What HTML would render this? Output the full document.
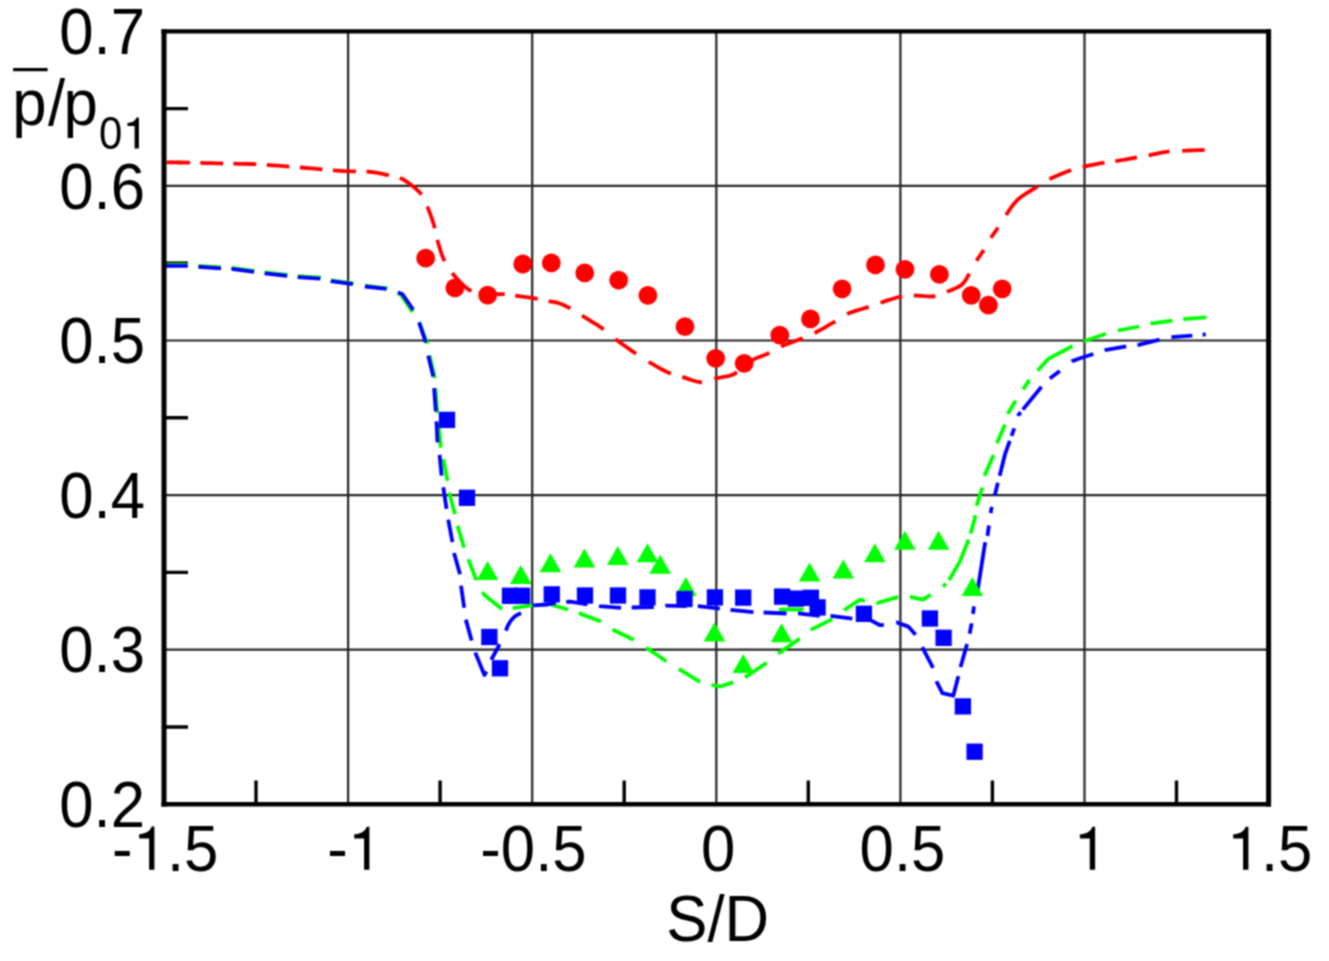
<!DOCTYPE html><html><head><meta charset="utf-8"><style>html,body{margin:0;padding:0;background:#fff;}svg{display:block;}text{font-family:"Liberation Sans",sans-serif;font-size:65px;}</style></head><body><svg width="1329" height="961" viewBox="0 0 1329 961"><filter id="bl" filterUnits="userSpaceOnUse" x="-10" y="-10" width="1349" height="981" color-interpolation-filters="sRGB"><feConvolveMatrix order="3" kernelMatrix="1 2 1 2 4 2 1 2 1" divisor="16" edgeMode="duplicate" preserveAlpha="true"/></filter><g filter="url(#bl)"><rect x="-10" y="-10" width="1349" height="981" fill="#fff"/><path d="M348.1 31.4V804.3M532.2 31.4V804.3M716.3 31.4V804.3M900.4 31.4V804.3M1084.5 31.4V804.3M164.0 649.7H1268.6M164.0 495.1H1268.6M164.0 340.5H1268.6M164.0 185.9H1268.6" stroke="#262626" stroke-width="2.2" fill="none"/><path d="M256.0 804.3V780.4M440.1 804.3V780.4M624.2 804.3V780.4M808.3 804.3V780.4M992.4 804.3V780.4M1176.5 804.3V780.4M164.0 727.0H188.0M164.0 572.4H188.0M164.0 417.8H188.0M164.0 263.2H188.0M164.0 108.6H188.0" stroke="#000" stroke-width="3.4" fill="none"/><polyline points="166.0,162.3 170.0,162.4 173.9,162.4 177.8,162.5 181.7,162.5 185.8,162.6 190.0,162.7 195.2,162.8 200.6,162.9 206.2,163.1 211.8,163.2 217.4,163.4 223.0,163.5 228.5,163.6 234.0,163.7 239.5,163.8 245.0,163.8 250.5,164.0 256.0,164.2 261.5,164.5 267.0,164.9 272.5,165.3 278.0,165.7 283.5,166.2 289.0,166.6 294.6,167.0 300.4,167.5 306.1,168.0 311.7,168.4 317.1,168.9 322.0,169.3 325.3,169.6 328.4,169.9 331.4,170.1 334.3,170.4 337.1,170.6 340.0,170.8 342.8,171.0 345.5,171.1 348.3,171.2 350.9,171.3 353.5,171.3 356.0,171.4 357.9,171.4 359.7,171.5 361.5,171.5 363.2,171.5 364.9,171.5 366.6,171.6 368.2,171.7 369.7,171.8 371.1,172.0 372.6,172.2 374.2,172.4 375.8,172.6 377.9,173.0 380.1,173.4 382.4,173.8 384.7,174.3 386.9,174.8 389.1,175.3 391.0,175.7 392.9,176.1 394.8,176.5 396.6,177.0 398.4,177.4 400.0,178.0 401.2,178.5 402.3,179.0 403.3,179.5 404.3,180.1 405.4,180.8 406.6,181.6 408.9,183.2 411.5,185.2 414.3,187.4 417.0,189.8 419.5,192.2 421.6,194.6 422.9,196.5 424.0,198.4 424.9,200.3 425.7,202.3 426.5,204.4 427.4,206.6 428.7,209.9 430.1,213.6 431.5,217.4 432.8,221.3 433.9,225.0 434.9,228.3 435.4,230.4 435.8,232.3 436.2,234.1 436.5,235.9 436.9,237.8 437.4,239.9 438.3,243.2 439.4,246.8 440.5,250.6 441.8,254.4 443.2,258.0 444.6,261.2 445.7,263.4 446.9,265.5 448.1,267.4 449.3,269.3 450.8,271.2 452.4,273.2 454.9,276.3 457.8,279.6 460.9,283.0 464.3,286.2 467.8,289.0 471.5,291.2 475.6,292.6 480.2,293.4 484.9,293.9 489.6,294.0 493.8,294.1 497.2,294.2 498.6,294.3 499.9,294.2 501.0,294.2 502.1,294.2 503.2,294.2 504.4,294.2 506.0,294.3 507.7,294.5 509.4,294.8 511.2,295.0 513.1,295.3 515.2,295.6 518.6,296.1 522.4,296.6 526.5,297.2 530.6,297.7 534.4,298.3 537.8,298.9 539.8,299.3 541.7,299.7 543.5,300.1 545.2,300.5 546.9,300.8 548.6,301.2 550.1,301.5 551.6,301.7 553.1,301.9 554.6,302.1 556.1,302.4 557.7,302.8 559.7,303.5 561.8,304.3 564.0,305.2 566.1,306.2 568.2,307.2 570.3,308.3 572.3,309.4 574.1,310.5 576.0,311.6 577.9,312.9 579.9,314.1 582.0,315.5 585.3,317.6 589.0,319.8 592.9,322.3 596.8,324.7 600.4,327.1 603.7,329.4 605.9,331.0 607.8,332.6 609.6,334.2 611.4,335.7 613.3,337.3 615.4,339.0 618.6,341.4 622.0,343.9 625.7,346.5 629.4,349.1 632.9,351.6 636.2,353.8 638.4,355.3 640.5,356.7 642.5,358.0 644.5,359.3 646.5,360.5 648.8,361.9 651.9,363.7 655.2,365.7 658.6,367.6 662.1,369.5 665.5,371.2 668.7,372.7 671.0,373.6 673.3,374.4 675.5,375.0 677.6,375.6 679.9,376.2 682.3,376.9 685.4,377.9 688.8,379.1 692.3,380.3 695.7,381.3 699.0,382.0 702.1,382.3 704.3,382.1 706.3,381.6 708.3,380.9 710.2,380.1 712.3,379.4 714.4,378.7 717.2,378.1 720.3,377.5 723.5,376.9 726.6,376.4 729.4,375.8 731.6,375.1 732.5,374.7 733.3,374.4 733.9,374.1 734.5,373.7 735.2,373.3 736.1,372.7 738.2,371.1 740.8,369.1 743.5,366.7 746.5,364.3 749.5,362.0 752.4,360.1 755.2,358.6 758.1,357.4 761.1,356.2 764.0,355.2 766.8,354.1 769.5,352.9 771.6,351.8 773.5,350.8 775.3,349.7 777.2,348.6 779.1,347.6 781.3,346.5 784.6,345.1 788.2,343.6 792.1,342.2 795.9,340.8 799.6,339.4 802.9,338.1 805.0,337.2 807.0,336.4 808.8,335.7 810.7,334.9 812.6,334.0 814.7,333.0 817.9,331.3 821.4,329.4 825.1,327.3 828.7,325.2 832.2,323.2 835.4,321.3 837.5,320.0 839.4,318.7 841.2,317.5 843.1,316.3 845.0,315.1 847.2,314.0 850.5,312.6 854.1,311.4 858.0,310.1 861.8,309.0 865.5,307.9 868.8,306.8 870.9,306.1 872.9,305.4 874.7,304.7 876.5,304.1 878.5,303.4 880.6,302.7 883.9,301.6 887.6,300.4 891.4,299.2 895.3,298.0 899.0,297.0 902.3,296.3 904.4,296.0 906.3,295.8 908.1,295.6 910.0,295.6 911.9,295.5 914.0,295.5 917.3,295.6 921.0,295.9 924.9,296.2 928.8,296.4 932.4,296.5 935.7,296.2 937.8,295.7 939.8,295.1 941.6,294.4 943.4,293.6 945.2,292.7 947.1,291.8 949.6,290.8 952.2,289.7 954.9,288.6 957.6,287.3 960.0,286.0 962.1,284.4 963.6,282.8 965.0,281.1 966.1,279.3 967.2,277.4 968.3,275.5 969.4,273.6 970.6,271.5 971.8,269.4 973.0,267.2 974.2,264.9 975.4,262.8 976.6,260.7 977.8,258.8 979.0,257.0 980.2,255.3 981.4,253.5 982.6,251.7 983.8,249.9 985.0,247.9 986.2,245.9 987.4,243.8 988.6,241.8 989.8,239.8 991.0,237.8 992.2,236.0 993.3,234.3 994.5,232.7 995.7,231.0 996.9,229.3 998.1,227.5 999.4,225.5 1000.7,223.4 1002.0,221.3 1003.4,219.2 1004.8,217.0 1006.2,214.9 1007.8,212.5 1009.4,210.0 1011.1,207.5 1012.9,205.1 1014.8,202.7 1017.0,200.4 1020.0,197.8 1023.5,195.3 1027.2,192.8 1031.0,190.5 1034.6,188.3 1037.8,186.3 1039.9,184.9 1041.8,183.7 1043.6,182.5 1045.4,181.4 1047.3,180.3 1049.5,179.1 1052.8,177.5 1056.4,175.9 1060.3,174.2 1064.2,172.7 1067.9,171.3 1071.2,170.1 1073.3,169.4 1075.2,168.9 1077.0,168.4 1078.8,167.9 1080.8,167.5 1082.9,167.0 1086.2,166.2 1089.9,165.4 1093.8,164.6 1097.7,163.8 1101.3,163.1 1104.6,162.5 1106.6,162.2 1108.3,162.0 1110.0,161.8 1111.7,161.6 1113.4,161.4 1115.4,161.1 1118.7,160.6 1122.3,160.0 1126.2,159.3 1130.1,158.6 1133.8,158.0 1137.1,157.4 1139.2,157.0 1141.1,156.7 1143.0,156.4 1144.8,156.0 1146.7,155.7 1148.8,155.3 1152.0,154.7 1155.5,153.9 1159.1,153.1 1162.8,152.4 1166.4,151.8 1169.6,151.3 1171.8,151.1 1173.9,151.0 1175.9,150.9 1177.9,150.9 1180.0,150.9 1182.3,150.8 1185.7,150.7 1189.3,150.5 1193.2,150.4 1197.1,150.2 1201.0,150.1 1204.8,149.9" fill="none" stroke="#f00" stroke-width="3.8" stroke-dasharray="0.0 0.8 23.3 10.2 22.9 10.2 22.9 10.5 22.7 10.6 22.6 10.5 23.0 10.6 22.8 11.2 27.5 13.4 23.0 11.9 22.5 14.2 26.5 10.5 23.2 10.6 22.8 11.1 23.0 13.7 25.8 15.1 25.5 15.0 25.1 11.8 20.6 12.9 23.8 12.0 26.0 13.4 23.2 12.9 23.8 13.9 22.8 12.5 22.6 11.7 21.7 12.3 29.9 14.8 13.0 14.1 12.5 15.0 43.3 13.7 23.5 12.1 22.2 10.9 22.0 11.9 21.2 12.7 22.5 1308.5" stroke-linejoin="round"/><polyline points="166.0,265.0 187.8,265.0 198.4,266.0 221.0,267.5 231.5,267.9 254.1,270.9 264.6,272.4 287.2,275.0 297.7,276.2 320.3,277.7 330.8,280.3 353.4,283.4 365.0,285.7 386.6,288.3 397.5,292.5 401.2,295.2 412.2,311.5 419.5,323.0 427.0,342.4 429.6,355.8 434.6,376.6 435.4,388.2 437.2,411.5 438.5,423.0 439.1,430.0 440.8,447.5 443.3,459.1 447.5,480.8 449.1,492.4 455.0,514.1 457.5,525.7 464.1,547.4 468.3,559.0 475.5,578.0 482.1,592.3 486.2,596.5 501.8,608.8 512.8,608.2 532.4,605.1 549.3,604.0 568.0,609.5 578.8,613.1 601.0,621.6 612.5,629.4 633.7,639.7 646.1,647.6 666.4,661.3 678.8,668.9 700.0,681.8 711.5,684.8 720.0,686.5 733.3,682.4 745.0,677.4 766.6,662.9 778.3,653.6 799.9,638.6 810.7,629.9 832.4,619.1 844.0,610.3 860.0,599.6 865.0,600.8 876.6,603.2 898.3,596.9 909.9,596.9 923.3,599.6 930.7,594.6 943.2,586.6 949.1,580.0 959.9,561.6 968.2,540.8 971.2,531.5 974.9,518.0 976.9,504.6 982.5,487.2 985.0,474.7 993.7,454.7 997.4,442.3 1004.9,424.8 1008.7,412.3 1016.2,399.8 1023.6,388.6 1028.6,381.1 1037.4,371.1 1048.6,358.6 1072.3,346.2 1084.0,341.2 1106.0,333.8 1117.8,330.5 1139.3,326.5 1150.5,323.7 1172.5,320.5 1183.3,319.2 1206.4,317.3" fill="none" stroke="#0f0" stroke-width="3.8" stroke-dasharray="0.0 0.0 22.0 10.5 22.7 10.5 23.0 10.4 22.9 10.4 23.2 10.4 22.8 11.8 22.5 11.1 24.6 12.4 22.7 12.2 23.0 10.1 24.8 10.2 24.6 11.9 22.1 11.7 22.5 11.9 22.7 12.5 22.5 13.4 25.7 10.9 19.9 15.6 20.8 11.4 23.8 13.9 23.6 14.7 24.5 14.5 24.8 11.9 22.6 12.7 26.0 14.9 26.3 13.9 24.2 14.6 24.4 11.8 22.6 11.6 22.6 14.8 4.1 4.7 45.1 6.4 19.0 9.5 19.1 11.9 22.8 12.1 20.1 11.3 15.3 13.5 11.5 12.2 43.4 12.3 23.3 12.3 21.9 11.5 22.2 10.9 23.2 1588.6" stroke-linejoin="round"/><path d="M781 609.5H802" stroke="#0f0" stroke-width="4.2" stroke-linecap="round"/><polyline points="166.0,265.8 187.8,265.8 198.4,266.9 221.0,268.4 231.5,268.8 254.1,271.8 264.6,273.3 287.2,275.9 297.7,277.1 320.3,278.6 330.8,281.2 353.4,284.3 365.0,286.5 386.6,289.0 398.3,292.5 402.5,294.2 413.3,310.0 419.1,322.5 425.8,342.4 428.3,355.8 433.3,376.6 434.1,388.2 435.8,411.5 436.6,423.3 437.5,442.5 439.6,455.0 441.6,475.8 443.3,487.4 446.6,509.1 448.3,519.9 452.5,542.4 454.1,553.2 460.1,574.5 461.1,586.0 464.2,607.9 465.8,619.6 471.7,640.7 475.3,652.6 484.4,675.0 486.7,671.2 491.4,659.5 499.8,644.0 505.9,630.4 507.8,625.8 510.0,621.9 512.5,618.7 515.2,616.2 518.2,614.3 521.4,613.1 533.1,605.4 547.7,604.5 558.6,602.4 570.0,601.6 587.7,604.3 599.2,606.1 621.3,607.8 631.9,607.5 654.0,607.0 665.5,605.7 686.8,606.1 698.3,606.1 720.0,608.7 730.6,609.9 753.6,612.1 763.7,612.5 786.7,613.5 798.2,613.3 819.9,615.8 830.7,615.8 852.5,618.6 870.0,619.9 880.0,625.2 884.1,624.9 896.6,622.4 908.3,626.6 915.8,634.9 922.4,647.4 933.2,668.2 936.6,681.6 942.4,693.2 953.3,695.7 958.3,676.6 960.7,666.6 966.6,645.8 969.9,632.5 971.6,623.3 974.0,606.6 978.2,586.6 984.9,544.1 987.5,535.8 991.2,509.6 994.9,494.7 1001.2,469.7 1004.9,454.7 1013.7,429.8 1018.6,414.8 1041.1,387.3 1049.8,378.6 1059.8,371.1 1072.3,361.1 1080.0,358.3 1093.5,354.0 1104.8,350.2 1126.3,346.3 1137.6,345.1 1159.6,339.7 1171.4,337.2 1192.3,335.6 1205.8,334.4" fill="none" stroke="#00f" stroke-width="3.8" stroke-dasharray="0.0 0.0 21.8 10.7 22.6 10.5 22.8 10.6 22.7 10.6 22.6 10.8 22.4 12.2 21.7 12.0 23.9 13.8 21.0 13.6 21.4 11.6 23.4 10.0 21.0 12.7 20.9 11.7 21.9 10.9 22.9 10.9 22.1 11.5 22.3 12.0 21.6 12.6 28.5 12.6 17.6 14.9 24.2 14.0 23.1 10.5 21.5 11.6 22.2 10.6 22.1 11.6 21.3 11.2 22.2 10.7 23.1 10.1 23.0 11.5 21.8 10.8 22.0 10.5 22.4 12.7 23.6 14.1 23.4 13.8 44.8 9.3 23.9 10.6 10.8 9.4 7.5 16.3 49.0 6.7 10.5 12.4 6.4 11.7 13.1 7.2 36.4 5.3 8.1 12.9 4.6 3.3 29.6 11.6 12.5 15.2 23.0 11.9 21.9 11.4 22.7 12.1 21.0 10.3 3.2 1787.5" stroke-linejoin="round"/><g fill="#f00"><circle cx="425.7" cy="258.2" r="9.4"/><circle cx="454.9" cy="287.9" r="9.4"/><circle cx="487.7" cy="295.2" r="9.4"/><circle cx="522.8" cy="264" r="9.4"/><circle cx="551.3" cy="262.9" r="9.4"/><circle cx="584.7" cy="272.9" r="9.4"/><circle cx="618.7" cy="280.1" r="9.4"/><circle cx="647.9" cy="295.4" r="9.4"/><circle cx="685" cy="326.7" r="9.4"/><circle cx="715.7" cy="358.3" r="9.4"/><circle cx="744.2" cy="363.3" r="9.4"/><circle cx="779.8" cy="335.2" r="9.4"/><circle cx="810.5" cy="318.9" r="9.4"/><circle cx="842.1" cy="288.8" r="9.4"/><circle cx="875.5" cy="264.9" r="9.4"/><circle cx="905" cy="269.3" r="9.4"/><circle cx="939.4" cy="274.4" r="9.4"/><circle cx="971.2" cy="295.4" r="9.4"/><circle cx="988.4" cy="305.2" r="9.4"/><circle cx="1002.2" cy="288.8" r="9.4"/></g><g fill="#0f0"><path d="M487.6 561.0L498.4 580.0H476.8Z"/><path d="M520.8 565.0L531.6 584.0H510.0Z"/><path d="M550.5 553.3L561.3 572.3H539.7Z"/><path d="M584.5 548.6L595.3 567.6H573.7Z"/><path d="M617.8 545.9L628.6 564.9H607.0Z"/><path d="M647.5 543.3L658.3 562.3H636.7Z"/><path d="M660.2 554.8L671.0 573.8H649.4Z"/><path d="M685.9 576.9L696.7 595.9H675.1Z"/><path d="M714.5 622.6L725.3 641.6H703.7Z"/><path d="M743.3 654.0L754.1 673.0H732.5Z"/><path d="M781.6 623.2L792.4 642.2H770.8Z"/><path d="M809.6 562.6L820.4 581.6H798.8Z"/><path d="M843.4 559.4L854.2 578.4H832.6Z"/><path d="M874.9 543.2L885.7 562.2H864.1Z"/><path d="M904.9 530.8L915.7 549.8H894.1Z"/><path d="M938.6 530.8L949.4 549.8H927.8Z"/><path d="M972.4 577.1L983.2 596.1H961.6Z"/></g><g fill="#00f"><rect x="438.85" y="411.75" width="16.3" height="16.3"/><rect x="458.85" y="489.65" width="16.3" height="16.3"/><rect x="481.25" y="628.85" width="16.3" height="16.3"/><rect x="491.85" y="660.15" width="16.3" height="16.3"/><rect x="501.85" y="587.65" width="16.3" height="16.3"/><rect x="513.95" y="587.65" width="16.3" height="16.3"/><rect x="543.65" y="586.25" width="16.3" height="16.3"/><rect x="576.85" y="587.35" width="16.3" height="16.3"/><rect x="609.85" y="587.35" width="16.3" height="16.3"/><rect x="639.35" y="589.25" width="16.3" height="16.3"/><rect x="676.35" y="590.85" width="16.3" height="16.3"/><rect x="706.75" y="589.25" width="16.3" height="16.3"/><rect x="735.05" y="589.45" width="16.3" height="16.3"/><rect x="773.95" y="588.45" width="16.3" height="16.3"/><rect x="787.85" y="590.45" width="16.3" height="16.3"/><rect x="802.75" y="589.65" width="16.3" height="16.3"/><rect x="809.45" y="599.25" width="16.3" height="16.3"/><rect x="855.75" y="605.65" width="16.3" height="16.3"/><rect x="921.75" y="610.35" width="16.3" height="16.3"/><rect x="935.45" y="629.65" width="16.3" height="16.3"/><rect x="954.75" y="698.25" width="16.3" height="16.3"/><rect x="966.45" y="743.55" width="16.3" height="16.3"/></g><path d="M164.0 29.2V806.5M1268.6 29.2V806.5" stroke="#000" stroke-width="5" fill="none"/><path d="M161.4 31.4H1271.0M161.4 804.3H1271.0" stroke="#000" stroke-width="4.4" fill="none"/><text transform="translate(59.20,53.95) scale(0.95,1)">0.7</text><text transform="translate(59.20,208.54) scale(0.95,1)">0.6</text><text transform="translate(59.20,363.13) scale(0.95,1)">0.5</text><text transform="translate(59.20,517.72) scale(0.95,1)">0.4</text><text transform="translate(59.20,672.31) scale(0.95,1)">0.3</text><text transform="translate(59.20,826.90) scale(0.95,1)">0.2</text><text transform="translate(111.90,871.00) scale(0.95,1)">-</text><text transform="translate(166.90,871.00) scale(0.95,1)">.5</text><path d="M149.10 869.70V838.50H139.20V834.20C144.60 833.90 149.60 832.40 151.70 826.60H154.40V869.70Z"/><text transform="translate(327.30,871.00) scale(0.95,1)">-</text><path d="M364.10 869.70V838.60H354.20V834.30C359.60 834.00 364.60 832.50 366.70 826.70H369.40V869.70Z"/><text transform="translate(480.25,871.00) scale(0.95,1)">-0.5</text><text transform="translate(701.00,871.00) scale(0.95,1)">0</text><text transform="translate(859.60,871.00) scale(0.95,1)">0.5</text><path d="M1089.80 869.70V838.60H1079.90V834.30C1085.30 834.00 1090.30 832.50 1092.40 826.70H1095.10V869.70Z"/><text transform="translate(1260.90,871.00) scale(0.95,1)">.5</text><path d="M1243.10 869.70V838.60H1233.20V834.30C1238.60 834.00 1243.60 832.50 1245.70 826.70H1248.40V869.70Z"/><text transform="translate(666.25,941.00) scale(0.95,1)">S/D</text><text transform="translate(12.20,124.60) scale(0.95,1)">p</text><text transform="translate(48.00,125.00) scale(0.95,1)">/</text><text transform="translate(63.50,124.60) scale(0.95,1)">p</text><filter id="nf"><feOffset dx="0" dy="0"/></filter><text transform="translate(99.10,149.30) scale(0.91,1)" style="font-size:46px" filter="url(#nf)">0</text><path d="M134.60 148.60V126.07H127.47V122.97C131.36 122.76 134.96 121.68 136.47 117.50H138.90V148.60Z"/><rect x="13.1" y="68.0" width="34.5" height="3.2" fill="#000"/></g></svg></body></html>
